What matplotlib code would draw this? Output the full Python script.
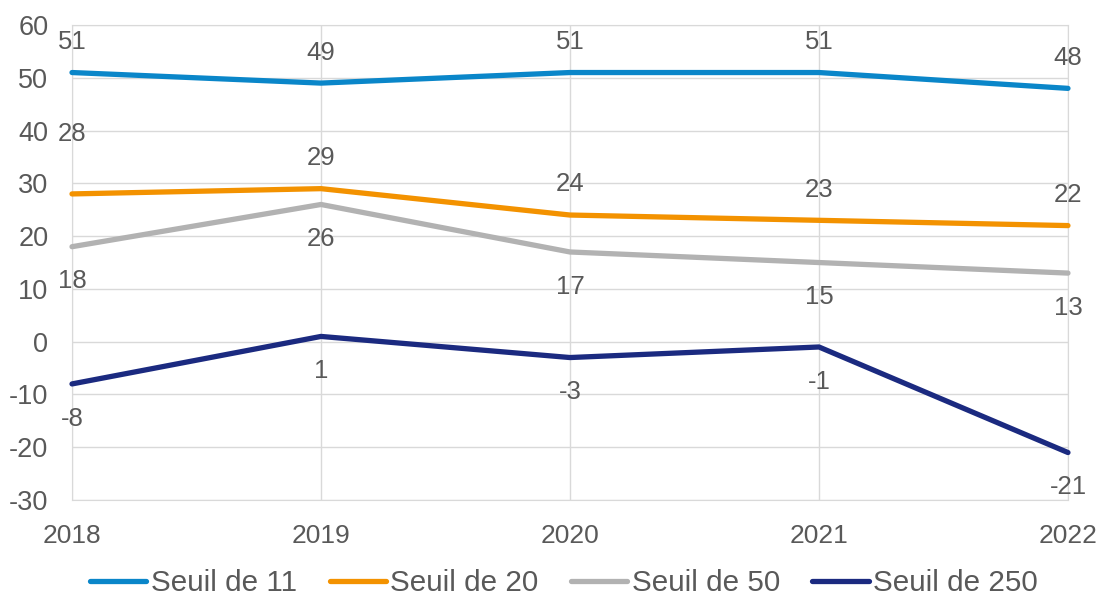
import matplotlib.pyplot as plt

plt.rcParams['font.family'] = ['Liberation Sans', 'DejaVu Sans']
plt.rcParams['axes.unicode_minus'] = False

# Data
years = [2018, 2019, 2020, 2021, 2022]
seuil_11 = [51, 49, 51, 51, 48]
seuil_20 = [28, 29, 24, 23, 22]
seuil_50 = [18, 26, 17, 15, 13]
seuil_250 = [-8, 1, -3, -1, -21]
series_names = ["Seuil de 11", "Seuil de 20", "Seuil de 50", "Seuil de 250"]
y_ticks = list(range(-30, 61, 10))

colors = ['#0a86c9', '#f39200', '#b2b2b2', '#1b2a80']
text_col = '#595959'
grid_col = '#d9d9d9'

# label offsets in points (above for 11 & 20, below for 50 & 250)
offsets = [
    [22, 22, 22, 22, 22],
    [43, 22, 22, 22, 22],
    [-25, -25, -25, -25, -25],
    [-25, -25, -25, -25, -25],
]

fig = plt.figure(figsize=(11.01, 5.96), dpi=100)
ax = fig.add_axes([0.0654, 0.161, 0.9046, 0.797])

all_series = [seuil_11, seuil_20, seuil_50, seuil_250]
for i, vals in enumerate(all_series):
    ax.plot(years, vals, color=colors[i], linewidth=3.8, label=series_names[i],
            solid_capstyle='round', clip_on=False, zorder=3)
    for x, v, off in zip(years, vals, offsets[i]):
        ax.annotate(str(v), (x, v), xytext=(0, off), textcoords='offset points',
                    ha='center', va='center', fontsize=18.5, color=text_col,
                    annotation_clip=False)

ax.set_xlim(2018, 2022)
ax.set_ylim(-30, 60)
ax.set_xticks(years)
ax.set_yticks(y_ticks)
ax.grid(True, color=grid_col, linewidth=1)
ax.set_axisbelow(True)
for s in ax.spines.values():
    s.set_color(grid_col)
ax.tick_params(axis='both', length=0, colors=text_col)
ax.tick_params(axis='y', labelsize=19.5, pad=17)
ax.tick_params(axis='x', labelsize=19, pad=17)

ax.legend(loc='center', bbox_to_anchor=(0.494, -0.175), ncol=4, frameon=False,
          fontsize=21.3, handlelength=1.9, handletextpad=0.15, columnspacing=1.1,
          labelcolor=text_col)

fig.savefig('out.png', dpi=100)
